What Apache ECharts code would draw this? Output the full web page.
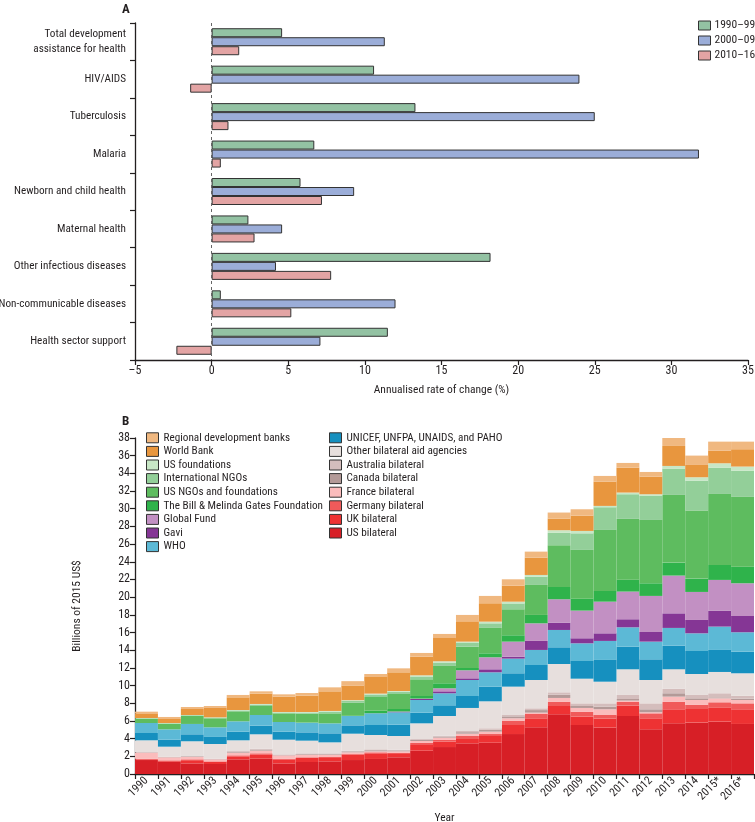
<!DOCTYPE html>
<html><head><meta charset="utf-8">
<script src="https://cdn.jsdelivr.net/npm/echarts@6/dist/echarts.min.js"></script>
<style>html,body{margin:0;padding:0;background:#fff}#c{width:755px;height:822px}</style>
</head><body><div id="c"></div>
<script>
// Panel A data
const categoriesA = ['Total development\nassistance for health','HIV/AIDS','Tuberculosis','Malaria','Newborn and child health','Maternal health','Other infectious diseases','Non-communicable diseases','Health sector support'];
const periodsA = ['1990–99','2000–09','2010–16'];
const rate1990s = [4.6, 10.6, 13.3, 6.7, 5.8, 2.4, 18.2, 0.6, 11.5];
const rate2000s = [11.3, 24.0, 25.0, 31.8, 9.3, 4.6, 4.2, 12.0, 7.1];
const rate2010s = [1.8, -1.4, 1.1, 0.6, 7.2, 2.8, 7.8, 5.2, -2.3];

// Panel B data
const years = ['1990','1991','1992','1993','1994','1995','1996','1997','1998','1999','2000','2001','2002','2003','2004','2005','2006','2007','2008','2009','2010','2011','2012','2013','2014','2015*','2016*'];
const usBilateral = [1.58,1.40,1.20,1.13,1.66,1.73,1.20,1.36,1.43,1.58,1.70,1.89,2.64,3.05,3.47,3.54,4.52,5.28,6.75,5.54,5.24,6.56,5.05,5.73,5.81,5.92,5.66];
const ukBilateral = [0.08,0.10,0.27,0.23,0.34,0.49,0.46,0.45,0.38,0.61,0.64,0.37,0.64,0.61,0.49,0.76,1.02,1.02,0.94,0.95,1.02,1.17,1.25,1.59,1.54,1.62,1.66];
const germanyBilateral = [0.06,0.05,0.19,0.07,0.11,0.12,0.07,0.08,0.11,0.11,0.11,0.15,0.23,0.19,0.34,0.22,0.49,0.49,0.49,0.56,0.41,0.45,0.56,0.86,0.46,0.57,0.67];
const franceBilateral = [0.69,0.34,0.26,0.23,0.30,0.30,0.38,0.30,0.27,0.15,0.11,0.15,0.22,0.26,0.26,0.27,0.27,0.15,0.42,0.42,0.65,0.12,0.12,0.57,0.56,0.45,0.38];
const canadaBilateral = [0.04,0.04,0.07,0.04,0.11,0.13,0.06,0.08,0.08,0.11,0.13,0.11,0.13,0.13,0.17,0.22,0.22,0.29,0.37,0.22,0.30,0.18,0.34,0.38,0.19,0.11,0.15];
const australiaBilateral = [0.04,0.03,0.05,0.03,0.08,0.10,0.05,0.07,0.07,0.08,0.10,0.08,0.10,0.10,0.13,0.16,0.15,0.20,0.27,0.30,0.37,0.46,0.67,0.52,0.38,0.46,0.34];
const otherBilateral = [1.32,1.13,1.66,1.66,1.21,1.62,1.66,1.43,1.24,1.92,1.62,1.55,1.77,2.22,2.61,3.05,3.21,3.20,3.20,2.79,2.45,2.90,2.64,2.19,2.37,2.41,2.53];
const unAgencies = [0.83,0.79,0.79,0.80,0.98,0.98,0.91,0.94,1.02,0.94,1.13,1.28,1.21,1.21,1.35,1.66,1.51,1.70,1.89,2.00,2.46,2.56,2.34,2.68,2.60,2.49,2.45];
const who = [1.13,1.17,1.17,1.09,1.17,1.20,1.09,1.10,1.13,1.06,1.32,1.40,1.43,1.36,1.81,1.62,1.66,1.70,1.96,2.00,2.15,2.19,2.00,2.00,2.00,2.64,2.19];
const gavi = [0,0,0,0,0,0,0,0,0,0,0.01,0.07,0.11,0.22,0.19,0.34,0.22,1.02,0.83,0.57,0.86,0.91,1.09,1.65,1.51,1.81,1.84];
const globalFund = [0,0,0,0,0,0,0,0,0,0,0,0.02,0.05,0.34,0.91,1.36,1.70,1.99,2.64,3.13,3.58,3.13,4.08,4.27,3.17,3.47,3.70];
const gatesFoundation = [0,0,0,0,0,0,0,0,0,0.02,0.29,0.28,0.29,0.57,0.26,0.45,0.72,0.95,1.39,1.35,1.21,1.35,1.43,1.47,1.51,1.69,1.88];
const usNgos = [0.49,0.64,0.94,1.02,1.13,1.02,0.98,1.02,1.13,1.47,1.55,1.70,1.89,1.96,2.41,2.87,2.94,3.39,4.72,5.51,6.90,6.87,7.16,7.65,7.69,8.03,7.92];
const internationalNgos = [0.05,0.05,0.05,0.08,0.10,0.17,0.10,0.12,0.19,0.22,0.28,0.24,0.32,0.38,0.42,0.52,0.66,0.93,1.40,1.88,2.57,2.79,2.72,2.98,3.39,2.98,2.94];
const usFoundations = [0.02,0.03,0.02,0.03,0.05,0.06,0.05,0.06,0.08,0.08,0.10,0.10,0.13,0.15,0.15,0.19,0.20,0.20,0.30,0.27,0.15,0.19,0.19,0.30,0.38,0.49,0.46];
const worldBank = [0.53,0.45,0.68,1.06,1.43,1.17,1.74,1.85,2.22,1.66,1.88,2.11,2.11,2.63,2.30,2.08,1.81,1.96,1.32,1.73,2.75,2.82,1.99,2.26,1.39,1.44,1.96];
const regionalBanks = [0.19,0.23,0.23,0.22,0.27,0.26,0.26,0.30,0.45,0.49,0.34,0.45,0.42,0.46,0.72,0.83,0.72,0.68,0.68,0.72,0.64,0.53,0.53,0.91,1.06,1.01,0.86];

const FONT = '"Liberation Sans Narrow", "Roboto Condensed", Roboto, sans-serif';
const TXT = '#231f20';

// Stack order bottom -> top
const stackB = [
  ['US bilateral', usBilateral, '#d71f26'],
  ['UK bilateral', ukBilateral, '#ee3233'],
  ['Germany bilateral', germanyBilateral, '#f05a5a'],
  ['France bilateral', franceBilateral, '#fbbcbc'],
  ['Canada bilateral', canadaBilateral, '#b39a98'],
  ['Australia bilateral', australiaBilateral, '#d4bdbc'],
  ['Other bilateral aid agencies', otherBilateral, '#e7dfdd'],
  ['UNICEF, UNFPA, UNAIDS, and PAHO', unAgencies, '#1690bf'],
  ['WHO', who, '#5cb9d6'],
  ['Gavi', gavi, '#853695'],
  ['Global Fund', globalFund, '#c290c3'],
  ['The Bill & Melinda Gates Foundation', gatesFoundation, '#2fb34b'],
  ['US NGOs and foundations', usNgos, '#5ebc5f'],
  ['International NGOs', internationalNgos, '#93cf99'],
  ['US foundations', usFoundations, '#c8e7c6'],
  ['World Bank', worldBank, '#e8963e'],
  ['Regional development banks', regionalBanks, '#f0b880']
];
const legendLeft = ['Regional development banks','World Bank','US foundations','International NGOs','US NGOs and foundations','The Bill & Melinda Gates Foundation','Global Fund','Gavi','WHO'];
const legendRight = ['UNICEF, UNFPA, UNAIDS, and PAHO','Other bilateral aid agencies','Australia bilateral','Canada bilateral','France bilateral','Germany bilateral','UK bilateral','US bilateral'];

const colorsA = ['#93c2a3','#9badd8','#e3a4a4'];
const valuesA = [rate1990s, rate2000s, rate2010s];

const axisLine = {show:true, onZero:false, lineStyle:{color:TXT, width:1.3}};
const axisTick = {show:true, length:5, lineStyle:{color:TXT, width:1.2}};

const seriesA = periodsA.map((p,i)=>({
  name:p, type:'bar', xAxisIndex:0, yAxisIndex:0, data:valuesA[i],
  barWidth:9, barGap:'0%',
  itemStyle:{color:colorsA[i], borderColor:'#333', borderWidth:1},
  markLine: i===0 ? {silent:true, symbol:'none', label:{show:false},
    lineStyle:{type:[3,3], color:'#666', width:1}, data:[{xAxis:0}]} : undefined
}));
const seriesB = stackB.map(([name,data,color])=>({
  name, type:'bar', xAxisIndex:1, yAxisIndex:1, stack:'b', data,
  barCategoryGap:'0%', barWidth:'100%',
  itemStyle:{color}, emphasis:{disabled:true}
}));

const legendCommon = {orient:'vertical', icon:'rect', selectedMode:false, padding:0, itemWidth:12, itemHeight:10,
  textStyle:{fontSize:11.2, color:TXT, fontFamily:FONT, lineHeight:13.6},
  itemStyle:{borderColor:'#333', borderWidth:1}};

const option = {
  animation:false,
  textStyle:{fontFamily:FONT, color:TXT},
  title:[
    {text:'A', left:117, top:-2, textStyle:{fontSize:13, fontWeight:'bold', color:TXT, fontFamily:FONT}},
    {text:'B', left:117, top:410, textStyle:{fontSize:13, fontWeight:'bold', color:TXT, fontFamily:FONT}}
  ],
  legend:[
    Object.assign({}, legendCommon, {data:periodsA, left:698, top:19, itemHeight:9, itemGap:2,
      textStyle:{fontSize:11.5, color:TXT, fontFamily:FONT, lineHeight:13, padding:[0,0,0,-1]}}),
    Object.assign({}, legendCommon, {data:legendLeft, left:146, top:431, itemGap:0}),
    Object.assign({}, legendCommon, {data:legendRight, left:329, top:431, itemGap:0})
  ],
  grid:[
    {left:135, top:23, width:613, height:337, outerBoundsMode:'none', containLabel:false},
    {left:135, top:438, width:619, height:336, outerBoundsMode:'none', containLabel:false}
  ],
  xAxis:[
    {gridIndex:0, type:'value', min:-5, max:35, interval:5, splitLine:{show:false},
     axisLine, axisTick,
     axisLabel:{fontSize:12, color:TXT, margin:5, formatter:v=> v<0 ? '–'+Math.abs(v) : String(v)},
     name:'Annualised rate of change (%)', nameLocation:'middle', nameGap:24,
     nameTextStyle:{fontSize:11.5, color:TXT}},
    {gridIndex:1, type:'category', data:years, boundaryGap:true,
     axisLine, axisTick,
     axisLabel:{rotate:45, interval:0, fontSize:11.5, color:TXT, margin:5},
     name:'Year', nameLocation:'middle', nameGap:38, nameTextStyle:{fontSize:11.5, color:TXT}}
  ],
  yAxis:[
    {gridIndex:0, type:'category', inverse:true, data:categoriesA,
     axisLine, axisTick,
     axisLabel:{fontSize:11.2, color:TXT, lineHeight:15, margin:9}},
    {gridIndex:1, type:'value', min:0, max:38, interval:2, splitLine:{show:false},
     axisLine, axisTick,
     axisLabel:{fontSize:12, color:TXT, margin:5},
     name:'Billions of 2015 US$', nameLocation:'middle', nameGap:52, nameRotate:90,
     nameTextStyle:{fontSize:11.5, color:TXT}}
  ],
  series:[...seriesA, ...seriesB]
};
echarts.init(document.getElementById('c'), null, {renderer:'canvas'}).setOption(option);
</script></body></html>
